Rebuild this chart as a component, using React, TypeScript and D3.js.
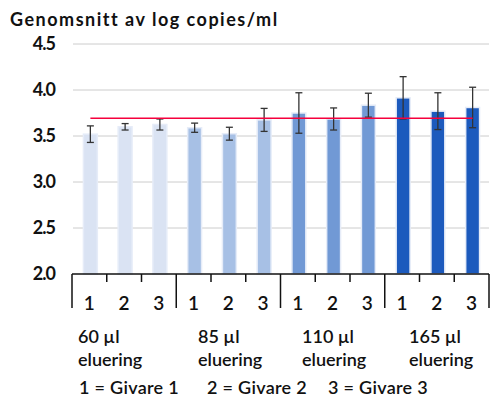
import { useRef, useEffect } from 'react';
import * as d3 from 'd3';

const groups = ['60 µl', '85 µl', '110 µl', '165 µl'];
const donors = ['1', '2', '3'];
const means = [3.52, 3.6, 3.625, 3.59, 3.525, 3.675, 3.75, 3.685, 3.835, 3.915, 3.77, 3.81];
const errors = [0.09, 0.035, 0.06, 0.05, 0.07, 0.125, 0.22, 0.12, 0.13, 0.23, 0.2, 0.22];
const groupColors = ['#dae3f3', '#a7c0e5', '#7199d5', '#1c5abd'];
const yTicks = [2.0, 2.5, 3.0, 3.5, 4.0, 4.5];
const refLine = 3.692;
const legendItems = ['1 = Givare 1', '2 = Givare 2', '3 = Givare 3'];

const App = () => {
  const svgRef = useRef(null);

  useEffect(() => {
    const svg = d3.select(svgRef.current);
    svg.selectAll('*').remove();
    const width = 490;
    const height = 399;
    const left = 72;
    const right = 489;
    const font = 'Lato, "DejaVu Sans", sans-serif';

    svg.attr('width', width).attr('height', height).style('font-family', font);

    const y = d3.scaleLinear().domain([2, 4.5]).range([274, 44]);
    const idx = d3.range(means.length);
    const x = d3.scaleBand().domain(idx.map(String)).range([left, right]).padding(0);
    const barW = x.bandwidth() * 0.4;
    const cx = i => x(String(i)) + x.bandwidth() / 2 + 1;

    // title
    svg.append('text')
      .attr('x', 10).attr('y', 26)
      .attr('font-size', 18).attr('font-weight', 700)
      .attr('letter-spacing', 1.5)
      .attr('fill', '#111')
      .text('Genomsnitt av log copies/ml');

    // gridlines
    svg.append('g').selectAll('line')
      .data(yTicks.slice(1))
      .join('line')
      .attr('x1', left + 1).attr('x2', right)
      .attr('y1', d => y(d)).attr('y2', d => y(d))
      .attr('stroke', '#cccccc').attr('stroke-width', 1);

    // y labels
    svg.append('g').selectAll('text')
      .data(yTicks)
      .join('text')
      .attr('x', 55).attr('y', d => y(d))
      .attr('dy', '0.36em')
      .attr('text-anchor', 'end')
      .attr('font-size', 18).attr('font-weight', 700)
      .attr('letter-spacing', -1)
      .attr('fill', '#111')
      .text(d => d.toFixed(1));

    // bars
    svg.append('g').selectAll('rect')
      .data(idx)
      .join('rect')
      .attr('x', i => cx(i) - barW / 2)
      .attr('y', i => y(means[i]))
      .attr('width', barW)
      .attr('height', i => y(2) - y(means[i]))
      .attr('fill', i => groupColors[Math.floor(i / 3)])
      .attr('stroke', '#e6ecf8').attr('stroke-width', 1.5);

    // error bars
    const eb = svg.append('g').attr('stroke', '#333').attr('stroke-width', 1.3);
    idx.forEach(i => {
      const top = y(means[i] + errors[i]);
      const bot = y(means[i] - errors[i]);
      eb.append('line').attr('x1', cx(i)).attr('x2', cx(i)).attr('y1', top).attr('y2', bot);
      eb.append('line').attr('x1', cx(i) - 3.5).attr('x2', cx(i) + 3.5).attr('y1', top).attr('y2', top);
      eb.append('line').attr('x1', cx(i) - 3.5).attr('x2', cx(i) + 3.5).attr('y1', bot).attr('y2', bot);
    });

    // reference line
    svg.append('line')
      .attr('x1', cx(0)).attr('x2', cx(means.length - 1))
      .attr('y1', y(refLine)).attr('y2', y(refLine))
      .attr('stroke', '#f5003c').attr('stroke-width', 1.5);

    // x axis
    const ax = svg.append('g').attr('stroke', '#111').attr('stroke-width', 1.5);
    ax.append('line').attr('x1', left).attr('x2', right).attr('y1', y(2)).attr('y2', y(2));
    d3.range(means.length + 1).forEach(k => {
      const xp = k < means.length ? x(String(k)) : right;
      const long = k % 3 === 0;
      ax.append('line')
        .attr('x1', xp).attr('x2', xp)
        .attr('y1', y(2)).attr('y2', long ? 308 : 282);
    });

    // donor labels
    svg.append('g').selectAll('text')
      .data(idx)
      .join('text')
      .attr('x', i => x(String(i)) + x.bandwidth() / 2)
      .attr('y', 310)
      .attr('text-anchor', 'middle')
      .attr('font-size', 19).attr('font-weight', 600)
      .attr('fill', '#111')
      .text(i => donors[i % 3]);

    // group labels
    const gl = svg.append('g').attr('font-size', 18).attr('font-weight', 600).attr('fill', '#111');
    const gx = [78, 198, 302, 409];
    groups.forEach((g, j) => {
      gl.append('text').attr('x', gx[j]).attr('y', 343).text(g);
      gl.append('text').attr('x', gx[j]).attr('y', 366).text('eluering');
    });

    // legend
    const lx = [79, 207, 328];
    svg.append('g').selectAll('text')
      .data(legendItems)
      .join('text')
      .attr('x', (d, i) => lx[i]).attr('y', 394)
      .attr('font-size', 18).attr('font-weight', 600)
      .attr('letter-spacing', 0.3)
      .attr('fill', '#111')
      .text(d => d);
  }, []);

  return (
    <svg ref={svgRef} style={{ position: 'absolute', left: 0, top: 0 }}></svg>
  );
};

export default App;
